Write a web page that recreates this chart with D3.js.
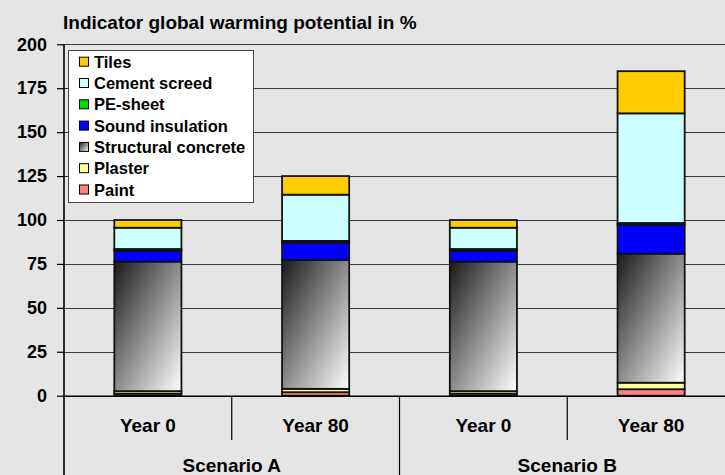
<!DOCTYPE html>
<html>
<head>
<meta charset="utf-8">
<script src="https://cdn.jsdelivr.net/npm/d3@7"></script>
<style>
  html, body { margin: 0; padding: 0; background: #e5e5e5; }
  svg { display: block; font-family: "Liberation Sans", Arial, sans-serif; font-weight: bold; }
</style>
</head>
<body>
<svg id="chart" width="725" height="475"></svg>
<script>
// Bars, grouped by scenario
const categories = ["A-0", "A-80", "B-0", "B-80"];
const yearLabels = ["Year 0", "Year 80", "Year 0", "Year 80"];
const scenarioLabels = ["Scenario A", "Scenario B"];

// Components, stacked bottom to top
const components = ["Paint", "Plaster", "Structural concrete", "Sound insulation", "PE-sheet", "Cement screed", "Tiles"];

// Values per bar (% of Year 0 reference)
const paint      = [1.2, 2.0, 1.2, 3.7];
const plaster    = [1.4, 1.9, 1.4, 3.7];
const concrete   = [73.7, 73.3, 73.7, 73.4];
const sound      = [6.2, 9.9, 6.2, 16.5];
const peSheet    = [1.0, 1.0, 1.0, 1.0];
const cement     = [12.1, 26.3, 12.1, 62.4];
const tiles      = [4.4, 10.6, 4.4, 24.0];

const yTicks = [0, 25, 50, 75, 100, 125, 150, 175, 200];

const colors = {
  "Paint": "#ff8080",
  "Plaster": "#ffff99",
  "Structural concrete": "url(#concreteGrad)",
  "Sound insulation": "#0000ff",
  "PE-sheet": "#00e000",
  "Cement screed": "#ccffff",
  "Tiles": "#ffcc00"
};

const seriesValues = [paint, plaster, concrete, sound, peSheet, cement, tiles];
const table = categories.map((c, i) => {
  const row = { cat: c };
  components.forEach((k, j) => row[k] = seriesValues[j][i]);
  return row;
});

const svg = d3.select("#chart");
const plotLeft = 64, plotRight = 735, plotTop = 44.3, plotBottom = 395.7;

// Concrete gradient: dark top-left to white bottom-right
const defs = svg.append("defs");
const grad = defs.append("linearGradient").attr("id", "concreteGrad")
  .attr("x1", 0).attr("y1", 0).attr("x2", 1).attr("y2", 1);
grad.append("stop").attr("offset", "0%").attr("stop-color", "#1a1a1a");
grad.append("stop").attr("offset", "100%").attr("stop-color", "#ffffff");

const x = d3.scaleBand().domain(categories).range([plotLeft, plotRight]).paddingInner(0).paddingOuter(0);
const y = d3.scaleLinear().domain([0, 200]).range([plotBottom, plotTop]);

// Title
svg.append("text").attr("x", 63).attr("y", 29).attr("font-size", 19).attr("fill", "#000")
  .text("Indicator global warming potential in %");

// Grid lines
svg.append("g").selectAll("line").data(yTicks.filter(t => t > 0)).join("line")
  .attr("x1", plotLeft).attr("x2", plotRight)
  .attr("y1", d => Math.round(y(d)) + 0.5).attr("y2", d => Math.round(y(d)) + 0.5)
  .attr("stroke", "#3a3a3a").attr("stroke-width", 1);

// Y axis
const yAxis = d3.axisLeft(y).tickValues(yTicks).tickSize(7).tickPadding(10);
const gy = svg.append("g").attr("transform", `translate(${plotLeft},0)`).call(yAxis);
gy.select(".domain").remove();
gy.selectAll(".tick line").attr("stroke", "#000").attr("stroke-width", 1.2);
gy.selectAll(".tick text").attr("font-size", 18).attr("font-weight", "bold")
  .attr("font-family", "Liberation Sans, Arial, sans-serif").attr("fill", "#000");

// Stacked bars
const stack = d3.stack().keys(components);
const layers = stack(table);
const barW = x.bandwidth() * 0.4;

svg.append("g").selectAll("g").data(layers).join("g")
  .attr("fill", d => colors[d.key])
  .selectAll("rect").data(d => d).join("rect")
  .attr("x", d => x(d.data.cat) + (x.bandwidth() - barW) / 2)
  .attr("width", barW)
  .attr("y", d => y(d[1]))
  .attr("height", d => y(d[0]) - y(d[1]))
  .attr("stroke", "#111").attr("stroke-width", 1.8);

// Axis lines
svg.append("line").attr("x1", plotLeft).attr("x2", plotRight).attr("y1", plotBottom + 0.5).attr("y2", plotBottom + 0.5)
  .attr("stroke", "#000").attr("stroke-width", 1.6);
svg.append("line").attr("x1", plotLeft).attr("x2", plotLeft).attr("y1", plotTop).attr("y2", 475)
  .attr("stroke", "#000").attr("stroke-width", 1.6);

// Category axis: separators and labels
const bandEdges = categories.map(c => x(c));
[1, 3].forEach(i => {
  svg.append("line").attr("x1", bandEdges[i]).attr("x2", bandEdges[i])
    .attr("y1", plotBottom).attr("y2", 440).attr("stroke", "#000").attr("stroke-width", 1.2);
});
svg.append("line").attr("x1", bandEdges[2]).attr("x2", bandEdges[2])
  .attr("y1", plotBottom).attr("y2", 475).attr("stroke", "#000").attr("stroke-width", 1.2);

svg.append("g").selectAll("text").data(categories).join("text")
  .attr("x", d => x(d) + x.bandwidth() / 2).attr("y", 432)
  .attr("text-anchor", "middle").attr("font-size", 19).attr("fill", "#000")
  .text((d, i) => yearLabels[i]);

svg.append("g").selectAll("text").data(scenarioLabels).join("text")
  .attr("x", (d, i) => x(categories[i * 2 + 1]))
  .attr("y", 472).attr("text-anchor", "middle").attr("font-size", 19).attr("fill", "#000")
  .text(d => d);

// Legend (top entry first)
const legend = svg.append("g");
legend.append("rect").attr("x", 68.5).attr("y", 50.5).attr("width", 185).attr("height", 152)
  .attr("fill", "#fff").attr("stroke", "#444").attr("stroke-width", 1);
const legendItems = components.slice().reverse();
const li = legend.selectAll("g.item").data(legendItems).join("g").attr("class", "item")
  .attr("transform", (d, i) => `translate(79, ${61.7 + i * 21.3})`);
li.append("rect").attr("x", 0.5).attr("y", -4.5).attr("width", 9).attr("height", 9)
  .attr("fill", d => colors[d]).attr("stroke", "#000").attr("stroke-width", 1);
li.append("text").attr("x", 15).attr("y", 6).attr("font-size", 16.5).attr("fill", "#000")
  .text(d => d);
</script>
</body>
</html>
